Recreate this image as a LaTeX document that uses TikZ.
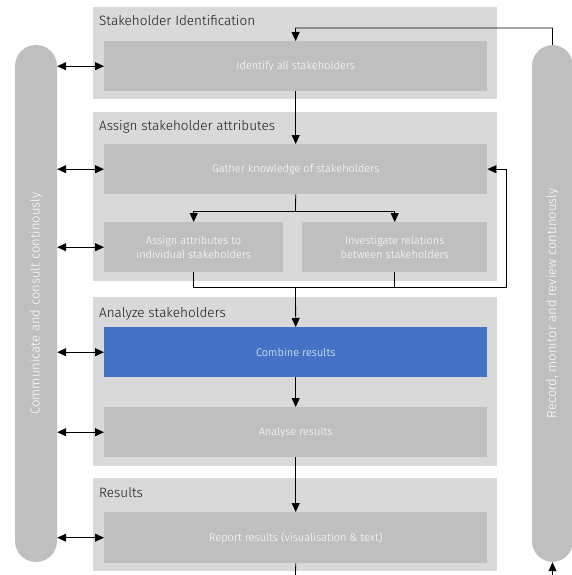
\documentclass[tikz,border=0pt]{standalone}
\usepackage{fontspec}
\setmainfont{Fira Sans}[UprightFont={* Light}]
\usetikzlibrary{arrows.meta,positioning}
\definecolor{groupgray}{HTML}{D9D9D9}
\definecolor{boxgray}{HTML}{BFBFBF}
\definecolor{boxblue}{HTML}{4472C4}

\begin{document}
\begin{tikzpicture}[x=1pt,y=-1pt,
    group/.style={fill=groupgray,anchor=north west,minimum width=404pt,inner sep=0pt},
    title/.style={anchor=base west,inner sep=0pt,font=\fontsize{13.5}{16}\selectfont,text=black!90},
    stepbox/.style={fill=boxgray,anchor=north west,minimum width=383pt,minimum height=50pt,
      inner sep=0pt,align=center,text=white,font=\fontsize{11}{14.5}\selectfont},
    pill/.style={fill=boxgray,minimum width=42pt,minimum height=517pt,rounded corners=21pt,inner sep=0pt},
    pilltext/.style={rotate=90,text=white,font=\fontsize{13}{15}\selectfont},
    arr/.style={-{Triangle[length=9pt,width=8pt]},line width=0.8pt},
    arrboth/.style={{Triangle[length=9pt,width=8pt]}-{Triangle[length=9pt,width=8pt]},line width=0.8pt}]
  \useasboundingbox (0,0) rectangle (572,575);

  % phases
  \node[group,minimum height=92pt]  (g1) at (93,7)   {};
  \node[group,minimum height=169pt] (g2) at (93,112) {};
  \node[group,minimum height=169pt] (g3) at (93,297) {};
  \node[group,minimum height=93pt]  (g4) at (93,478) {};
  \node[title] at (99,26)  {Stakeholder Identification};
  \node[title] at (99,131) {Assign stakeholder attributes};
  \node[title] at (99,317) {Analyze stakeholders};
  \node[title] at (99,497) {Results};

  % steps
  \node[stepbox] (identify) at (104,41)  {Identify all stakeholders};
  \node[stepbox] (gather)   at (104,144) {Gather knowledge of stakeholders};
  \node[stepbox,minimum width=179pt] (assign) at (104,222) {Assign attributes to\\individual stakeholders};
  \node[stepbox,minimum width=185pt] (relations) at (302,222) {Investigate relations\\between stakeholders};
  \node[stepbox,fill=boxblue] (combine) at (104,327) {Combine results};
  \node[stepbox] (analyse)  at (104,407) {Analyse results};
  \node[stepbox,minimum height=51pt] (report) at (104,512) {Report results (visualisation \& text)};

  % side bars
  \node[pill] (communicate) at (36,303.5) {};
  \node[pilltext] at (communicate) {Communicate and consult continously};
  \node[pill,minimum width=41pt] (record) at (552.5,303.5) {};
  \node[pilltext] at (record) {Record, monitor and review continously};

  % connectors
  \coordinate (feedback) at (295.5,28);
  \coordinate (split) at (295.5,211);
  \coordinate (join) at (295.5,287);
  \coordinate (loop) at (506,287);
  \coordinate (out) at (295.5,575);
  \coordinate (in) at (552.5,575);

  \draw[arr] (record.north) |- (feedback) -- (identify.north);
  \draw[arr] (identify) -- (gather);
  \draw[line width=0.8pt] (gather.south) -- (split);
  \draw[arr] (split) -| (assign.north);
  \draw[arr] (split) -| (relations.north);
  \draw[arr] (assign.south) |- (loop) |- (gather.east);
  \draw[line width=0.8pt] (relations.south) -- (relations.south |- loop);
  \draw[arr] (join) -- (combine.north);
  \draw[arr] (combine) -- (analyse);
  \draw[arr] (analyse) -- (report);
  \draw[line width=0.8pt] (report.south) -- (out);
  \draw[arr] (in) -- (record.south);
  \foreach \s in {identify,gather,assign,combine,analyse,report}
    \draw[arrboth] (communicate.east |- \s.west) -- (\s.west);
\end{tikzpicture}
\end{document}
